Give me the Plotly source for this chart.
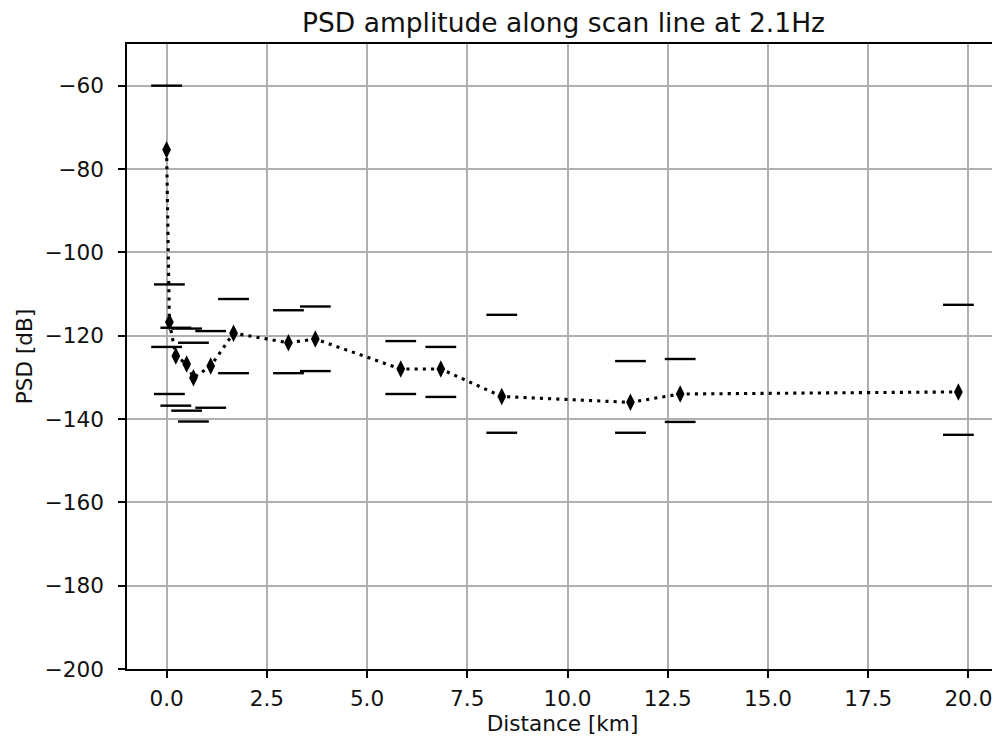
import plotly.graph_objects as go

# Data
distance_km = [0.0, 0.07, 0.23, 0.50, 0.67, 1.10, 1.67, 3.04, 3.71, 5.84, 6.84, 8.36, 11.57, 12.81, 19.75]
psd_db = [-75.4, -116.7, -124.9, -126.8, -130.1, -127.3, -119.4, -121.7, -120.8, -128.0, -128.0, -134.6, -136.0, -134.0, -133.5]
psd_upper_db = [-60.0, -107.7, -118.1, -118.3, -121.7, -118.9, -111.2, -113.9, -113.0, -121.3, -122.7, -115.0, -126.1, -125.6, -112.6]
psd_lower_db = [-122.7, -134.0, -136.8, -138.0, -140.6, -137.3, -129.0, -129.0, -128.5, -134.0, -134.7, -143.3, -143.3, -140.7, -143.8]

x_tick_vals = [0.0, 2.5, 5.0, 7.5, 10.0, 12.5, 15.0, 17.5, 20.0]
x_tick_text = ["0.0", "2.5", "5.0", "7.5", "10.0", "12.5", "15.0", "17.5", "20.0"]
y_tick_vals = [-200, -180, -160, -140, -120, -100, -80, -60]
y_tick_text = ["\u2212200", "\u2212180", "\u2212160", "\u2212140", "\u2212120", "\u2212100", "\u221280", "\u221260"]

FONT = "DejaVu Sans"
TICK_PX = 21.6
TITLE_PX = 26.5

xmin, xmax = min(distance_km), max(distance_km)
pad = 0.05 * (xmax - xmin)
x_range = [xmin - pad, xmax + pad]

fig = go.Figure()

# error caps (no vertical bars)
fig.add_trace(go.Scatter(
    x=distance_km + distance_km,
    y=psd_upper_db + psd_lower_db,
    mode="markers",
    marker=dict(symbol="line-ew", size=22, color="black",
                line=dict(color="black", width=2.4)),
    showlegend=False, hoverinfo="skip",
))

fig.add_trace(go.Scatter(
    x=distance_km, y=psd_db,
    mode="lines+markers",
    line=dict(color="black", width=3.1, dash="3.1px,5.1px"),
    marker=dict(symbol="diamond-tall", size=12.5, color="black"),
    showlegend=False,
))

axis_common = dict(
    showgrid=True, gridcolor="#b0b0b0", gridwidth=1.6,
    showline=True, linecolor="black", linewidth=1.6, mirror=True,
    ticks="outside", ticklen=7, tickwidth=1.6, tickcolor="black",
    zeroline=False,
    tickfont=dict(family=FONT, size=TICK_PX, color="#111111"),
)

fig.update_layout(
    width=992, height=730,
    margin=dict(l=119, r=0, t=36, b=69),
    paper_bgcolor="white", plot_bgcolor="white",
    title=dict(text="PSD amplitude along scan line at 2.1Hz",
               font=dict(family=FONT, size=TITLE_PX, color="#111111"),
               x=(119 + 992) / 2 / 992, xref="container", xanchor="center",
               y=1 - 15 / 730, yref="container", yanchor="middle"),
    xaxis=dict(range=x_range, tickvals=x_tick_vals, ticktext=x_tick_text,
               ticklabelstandoff=2,
               title=dict(text="Distance [km]", font=dict(family=FONT, size=TICK_PX, color="#111111"), standoff=5),
               **axis_common),
    yaxis=dict(range=[-200, -50], tickvals=y_tick_vals, ticktext=y_tick_text,
               ticklabelstandoff=10,
               title=dict(text="PSD [dB]", font=dict(family=FONT, size=TICK_PX, color="#111111"), standoff=6),
               **axis_common),
)

fig.write_html("out.html")
